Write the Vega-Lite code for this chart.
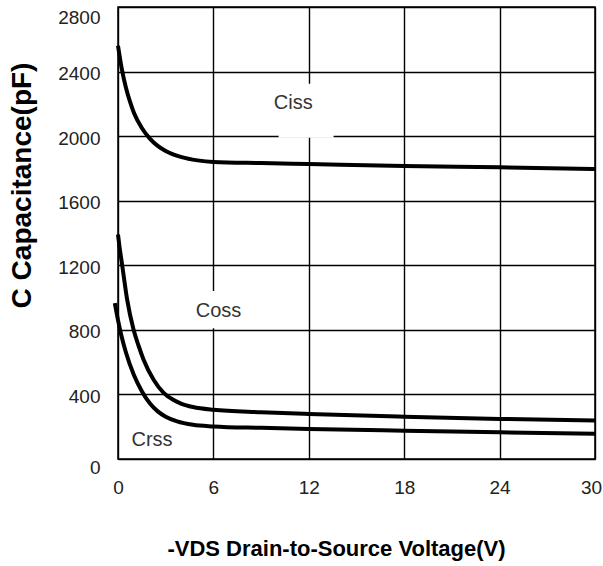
{
  "$schema": "https://vega.github.io/schema/vega-lite/v6.json",
  "width": 477,
  "height": 452,
  "autosize": {"type": "none"},
  "padding": {"left": 118, "top": 7, "right": 8, "bottom": 107},
  "background": "white",
  "config": {
    "view": {"stroke": "black", "strokeWidth": 1.5},
    "font": "Liberation Sans"
  },
  "datasets": {
    "curves": [
      {"series": "Ciss", "v": 0, "c": 2560},
      {"series": "Ciss", "v": 0.25, "c": 2410},
      {"series": "Ciss", "v": 0.5, "c": 2300},
      {"series": "Ciss", "v": 0.75, "c": 2215},
      {"series": "Ciss", "v": 1.0, "c": 2145},
      {"series": "Ciss", "v": 1.5, "c": 2050},
      {"series": "Ciss", "v": 2.0, "c": 1985},
      {"series": "Ciss", "v": 2.5, "c": 1940},
      {"series": "Ciss", "v": 3.0, "c": 1908},
      {"series": "Ciss", "v": 4.0, "c": 1870},
      {"series": "Ciss", "v": 5.0, "c": 1850},
      {"series": "Ciss", "v": 6, "c": 1840},
      {"series": "Ciss", "v": 9, "c": 1833},
      {"series": "Ciss", "v": 12, "c": 1827},
      {"series": "Ciss", "v": 18, "c": 1815},
      {"series": "Ciss", "v": 24, "c": 1807},
      {"series": "Ciss", "v": 30, "c": 1797},
      {"series": "Coss", "v": 0, "c": 1390},
      {"series": "Coss", "v": 0.1, "c": 1310},
      {"series": "Coss", "v": 0.25, "c": 1210},
      {"series": "Coss", "v": 0.57, "c": 990},
      {"series": "Coss", "v": 0.98, "c": 800},
      {"series": "Coss", "v": 1.3, "c": 700},
      {"series": "Coss", "v": 1.61, "c": 615},
      {"series": "Coss", "v": 2.24, "c": 491},
      {"series": "Coss", "v": 2.87, "c": 410},
      {"series": "Coss", "v": 3.5, "c": 365},
      {"series": "Coss", "v": 4.0, "c": 342},
      {"series": "Coss", "v": 4.72, "c": 322},
      {"series": "Coss", "v": 6, "c": 305},
      {"series": "Coss", "v": 9, "c": 290},
      {"series": "Coss", "v": 12, "c": 279},
      {"series": "Coss", "v": 18, "c": 262},
      {"series": "Coss", "v": 24, "c": 248},
      {"series": "Coss", "v": 30, "c": 239},
      {"series": "Crss", "v": -0.2, "c": 965},
      {"series": "Crss", "v": 0, "c": 860},
      {"series": "Crss", "v": 0.2, "c": 770},
      {"series": "Crss", "v": 0.5, "c": 660},
      {"series": "Crss", "v": 1.0, "c": 520},
      {"series": "Crss", "v": 1.5, "c": 420},
      {"series": "Crss", "v": 2.0, "c": 345},
      {"series": "Crss", "v": 2.5, "c": 295},
      {"series": "Crss", "v": 3.0, "c": 262},
      {"series": "Crss", "v": 3.72, "c": 233},
      {"series": "Crss", "v": 4.72, "c": 212},
      {"series": "Crss", "v": 6, "c": 202},
      {"series": "Crss", "v": 9, "c": 193},
      {"series": "Crss", "v": 12, "c": 186},
      {"series": "Crss", "v": 18, "c": 175},
      {"series": "Crss", "v": 24, "c": 165},
      {"series": "Crss", "v": 30, "c": 157}
    ],
    "labels": [
      {"label": "Ciss", "v": 11.02, "c": 2207, "v0": 10.1, "v1": 13.56, "c0": 1990, "c1": 2325},
      {"label": "Coss", "v": 6.32, "c": 914, "v0": 5.0, "v1": 7.8, "c0": 810, "c1": 1040},
      {"label": "Crss", "v": 2.14, "c": 120, "v0": 1.5, "v1": 2.8, "c0": 60, "c1": 180}
    ]
  },
  "layer": [
    {
      "data": {"name": "labels"},
      "transform": [{"filter": "datum.label != 'Crss'"}],
      "mark": {"type": "rect", "fill": "white", "stroke": null},
      "encoding": {
        "x": {"field": "v0", "type": "quantitative", "scale": {"domain": [0, 30], "nice": false, "zero": false}},
        "x2": {"field": "v1"},
        "y": {"field": "c0", "type": "quantitative", "scale": {"domain": [0, 2800], "nice": false}},
        "y2": {"field": "c1"}
      }
    },
    {
      "data": {"name": "curves"},
      "mark": {"type": "line", "color": "black", "strokeWidth": 4, "interpolate": "monotone"},
      "encoding": {
        "x": {
          "field": "v", "type": "quantitative",
          "scale": {"domain": [0, 30], "nice": false, "zero": false},
          "axis": {
            "values": [0, 6, 12, 18, 24, 30],
            "format": "d",
            "title": "-VDS Drain-to-Source Voltage(V)",
            "titleFont": "Liberation Sans",
            "titleFontSize": 22,
            "titleFontWeight": "bold",
            "titleColor": "black",
            "titleX": 218,
            "titleY": 89,
            "titleAlign": "center",
            "titleBaseline": "middle",
            "labelFont": "Liberation Sans",
            "labelFontSize": 19,
            "labelColor": "#222222",
            "labelPadding": 19,
            "labelFlush": false,
            "labelOffset": {"condition": {"test": "datum.value == 30", "value": -4}, "value": 0},
            "ticks": false,
            "domain": false,
            "grid": true,
            "gridColor": "black",
            "gridWidth": 1.4,
            "gridOpacity": 1
          }
        },
        "y": {
          "field": "c", "type": "quantitative",
          "scale": {"domain": [0, 2800], "nice": false},
          "axis": {
            "values": [0, 400, 800, 1200, 1600, 2000, 2400, 2800],
            "format": "d",
            "title": "C Capacitance(pF)",
            "titleFont": "Liberation Sans",
            "titleFontSize": 28,
            "titleFontWeight": "bold",
            "titleColor": "black",
            "titleX": -96,
            "titleY": 178,
            "titleAngle": -90,
            "titleAlign": "center",
            "titleBaseline": "middle",
            "labelFont": "Liberation Sans",
            "labelFontSize": 19,
            "labelColor": "#222222",
            "labelPadding": 18,
            "labelFlush": false,
            "labelOffset": {"condition": [{"test": "datum.value == 0", "value": 8}, {"test": "datum.value == 2800", "value": 10}], "value": 2},
            "ticks": false,
            "domain": false,
            "grid": true,
            "gridColor": "black",
            "gridWidth": 1.4,
            "gridOpacity": 1
          }
        },
        "detail": {"field": "series", "type": "nominal"}
      }
    },
    {
      "data": {"name": "labels"},
      "mark": {"type": "text", "font": "Liberation Sans", "fontSize": 20, "color": "#333333", "align": "center", "baseline": "middle"},
      "encoding": {
        "x": {"field": "v", "type": "quantitative"},
        "y": {"field": "c", "type": "quantitative"},
        "text": {"field": "label"}
      }
    }
  ]
}
